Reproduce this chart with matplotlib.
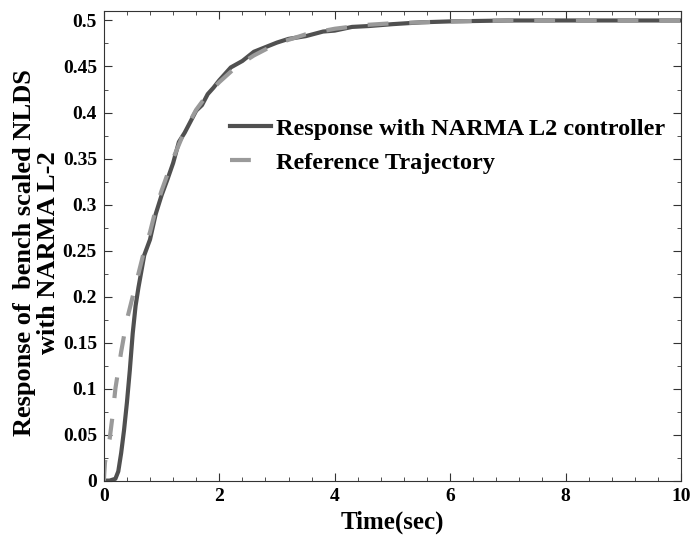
import matplotlib
matplotlib.use("Agg")
from matplotlib import pyplot as plt
from matplotlib.ticker import MultipleLocator

plt.rcParams["font.family"] = "Liberation Serif"
plt.rcParams["font.weight"] = "bold"

# response with NARMA L2 controller
t_resp = [0, 0.1, 0.2, 0.25, 0.3, 0.35, 0.4, 0.45, 0.5, 0.55, 0.6, 0.7, 0.8, 0.9,
          1.0, 1.1, 1.2, 1.3, 1.4, 1.5, 1.6, 1.7, 1.8, 1.9, 2.0, 2.2, 2.4, 2.6,
          2.8, 3.0, 3.2, 3.5, 3.8, 4.0, 4.3, 4.6, 5.0, 5.5, 6.0, 7.0, 10.0]
y_resp = [0, 0, 0.002, 0.01, 0.03, 0.055, 0.085, 0.12, 0.16, 0.19, 0.21, 0.245,
          0.262, 0.29, 0.31, 0.327, 0.345, 0.368, 0.378, 0.39, 0.402, 0.408, 0.42,
          0.427, 0.435, 0.449, 0.456, 0.466, 0.471, 0.476, 0.48, 0.483, 0.488,
          0.489, 0.493, 0.494, 0.496, 0.498, 0.499, 0.5, 0.5]

# reference trajectory
t_ref = [0, 0.02, 0.05, 0.1, 0.15, 0.2, 0.3, 0.4, 0.5, 0.6, 0.7, 0.8, 0.9, 1.0,
         1.2, 1.4, 1.6, 1.8, 2.0, 2.3, 2.6, 3.0, 3.5, 4.0, 4.5, 5.0, 6.0, 7.0, 10.0]
y_ref = [0, 0.02, 0.03, 0.045, 0.07, 0.1, 0.14, 0.175, 0.2, 0.225, 0.25, 0.27,
         0.295, 0.315, 0.35, 0.38, 0.403, 0.42, 0.433, 0.45, 0.462, 0.475, 0.485,
         0.491, 0.495, 0.497, 0.499, 0.5, 0.5]

fig, ax = plt.subplots(figsize=(6.97, 5.37), dpi=100)
fig.subplots_adjust(left=0.149, right=0.977, top=0.979, bottom=0.105)

ax.plot(t_resp, y_resp, color="#505050", lw=3, label="Response with NARMA L2 controller")
ax.plot(t_ref, y_ref, color="#9a9a9a", lw=3, dashes=(5, 5),
        label="Reference Trajectory")

ax.set_xlim(0, 10)
ax.set_ylim(0, 0.51)
ax.xaxis.set_major_locator(MultipleLocator(2))
ax.xaxis.set_minor_locator(MultipleLocator(0.4))
ax.yaxis.set_minor_locator(MultipleLocator(0.025))
ax.set_yticks([0, 0.05, 0.1, 0.15, 0.2, 0.25, 0.3, 0.35, 0.4, 0.45, 0.5])
ax.set_yticklabels(["0", "0.05", "0.1", "0.15", "0.2", "0.25", "0.3", "0.35",
                    "0.4", "0.45", "0.5"])
ax.tick_params(which="both", direction="in", top=True, right=True, color="#333333")
ax.tick_params(which="major", length=6, labelsize=14, pad=5)
ax.tick_params(which="minor", length=3)
for s in ax.spines.values():
    s.set_color("#333333")

ax.set_xlabel("Time(sec)", fontsize=18, fontweight="bold", labelpad=4)
ax.set_ylabel("Response of  bench scaled NLDS\nwith NARMA L-2", fontsize=19,
              fontweight="bold", linespacing=1.05)
ax.yaxis.set_label_coords(-0.076, 0.485)

ax.legend(loc="upper left", bbox_to_anchor=(0.18, 0.82), frameon=False,
          fontsize=17.5, handlelength=1.7, handletextpad=0.2, labelspacing=0.5)

plt.savefig("out.png")
